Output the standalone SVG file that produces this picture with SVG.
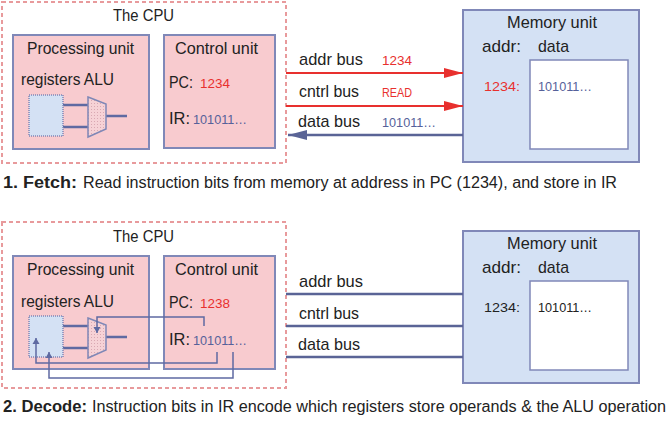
<svg xmlns="http://www.w3.org/2000/svg" width="671" height="421" viewBox="0 0 671 421">
<defs>
<style>
text{font-family:"Liberation Sans",Arial,sans-serif;fill:#222}
.t{font-size:17px}
.s{font-size:13px}
.red{fill:#e8302e}
.bl{fill:#56619a}
.cap{font-size:16px}
.b{font-weight:bold}
.cpu{fill:#fff;stroke:#e89a9c;stroke-width:2;stroke-dasharray:4 3}
.unit{fill:#f8cbcf;stroke:#8088b8;stroke-width:2}
.mem{fill:#d4e1f4;stroke:#8088b8;stroke-width:2}
.cell{fill:#fff;stroke:#8088b8;stroke-width:1.5}
.reg{fill:#d4e1f4;stroke:#7f87b6;stroke-width:1.5;stroke-dasharray:1 1}
.alu{fill:url(#dots);stroke:#7f87b6;stroke-width:1.5}
.lnk{stroke:#5f6aa2;stroke-width:2.5;fill:none}
.busr{stroke:#e8302e;stroke-width:2;fill:none}
.busb{stroke:#5a6496;stroke-width:2.5;fill:none}
.wire{stroke:#5f6aa2;stroke-width:1.5;fill:none}
</style>
<pattern id="dots" width="3" height="3" patternUnits="userSpaceOnUse">
<rect width="3" height="3" fill="#f6d2d6"/>
<rect x="1" y="1" width="1" height="1" fill="#d9a8b2"/>
</pattern>
<marker id="ar" markerWidth="20" markerHeight="10" refX="19" refY="5" orient="auto" markerUnits="userSpaceOnUse">
<path d="M0,0 L19,5 L0,10 z" fill="#e8302e"/>
</marker>
<marker id="ab" markerWidth="20" markerHeight="10" refX="19" refY="5" orient="auto" markerUnits="userSpaceOnUse">
<path d="M0,0 L19,5 L0,10 z" fill="#5a6496"/>
</marker>
<marker id="aw" markerWidth="6" markerHeight="8" refX="6" refY="4" orient="auto" markerUnits="userSpaceOnUse">
<path d="M0,0.5 L6,4 L0,7.5 z" fill="#5f6aa2"/>
</marker>
</defs>

<!-- ===== Panel 1: Fetch ===== -->
<g id="cpu1">
<rect class="cpu" x="2" y="2" width="284" height="161"/>
<text class="t" x="113" y="21" textLength="61" lengthAdjust="spacingAndGlyphs">The CPU</text>
</g>
<g id="proc1">
<rect class="unit" x="13" y="35" width="136" height="114"/>
<text class="t" x="27" y="54" textLength="107" lengthAdjust="spacingAndGlyphs">Processing unit</text>
<text class="t" x="21" y="85" textLength="93" lengthAdjust="spacingAndGlyphs">registers ALU</text>
<line class="lnk" x1="63" y1="105" x2="88" y2="105"/>
<line class="lnk" x1="63" y1="127" x2="88" y2="127"/>
<line class="lnk" x1="106" y1="116" x2="127" y2="116"/>
<rect class="reg" x="29" y="95" width="34" height="41"/>
<path class="alu" d="M88,97 L106,104 L106,129 L88,137 z"/>
</g>
<g id="ctrl1">
<rect class="unit" x="164" y="35" width="111" height="113"/>
<text class="t" x="175" y="54" textLength="83" lengthAdjust="spacingAndGlyphs">Control unit</text>
<text class="t" x="169" y="88" textLength="24" lengthAdjust="spacingAndGlyphs">PC:</text>
<text class="s red" x="200" y="88" textLength="30" lengthAdjust="spacingAndGlyphs">1234</text>
<text class="t" x="169" y="124" textLength="21" lengthAdjust="spacingAndGlyphs">IR:</text>
<text class="s bl" x="193" y="124" textLength="54" lengthAdjust="spacingAndGlyphs">101011…</text>
</g>
<g id="mem1">
<rect class="mem" x="463" y="10" width="176" height="152"/>
<text class="t" x="507" y="28" textLength="90" lengthAdjust="spacingAndGlyphs">Memory unit</text>
<text class="t" x="482" y="52" textLength="39" lengthAdjust="spacingAndGlyphs">addr:</text>
<text class="t" x="538" y="52" textLength="31" lengthAdjust="spacingAndGlyphs">data</text>
<rect class="cell" x="530" y="60" width="98" height="89"/>
<text class="s red" x="484" y="91" textLength="36" lengthAdjust="spacingAndGlyphs">1234:</text>
<text class="s bl" x="538" y="91" textLength="54" lengthAdjust="spacingAndGlyphs">101011…</text>
</g>
<g id="connectors1">
<line class="busr" x1="286" y1="73" x2="463" y2="73" marker-end="url(#ar)"/>
<line class="busr" x1="286" y1="106" x2="463" y2="106" marker-end="url(#ar)"/>
<line class="busb" x1="463" y1="135" x2="288" y2="135" marker-end="url(#ab)"/>
<text class="t" x="299" y="65" textLength="64" lengthAdjust="spacingAndGlyphs">addr bus</text>
<text class="s red" x="382" y="65" textLength="30" lengthAdjust="spacingAndGlyphs">1234</text>
<text class="t" x="299" y="97" textLength="60" lengthAdjust="spacingAndGlyphs">cntrl bus</text>
<text class="s red" x="382" y="97" textLength="30" lengthAdjust="spacingAndGlyphs">READ</text>
<text class="t" x="298" y="127" textLength="62" lengthAdjust="spacingAndGlyphs">data bus</text>
<text class="s bl" x="382" y="127" textLength="54" lengthAdjust="spacingAndGlyphs">101011…</text>
</g>
<g id="caption1">
<text class="cap b" x="3" y="188" textLength="74" lengthAdjust="spacingAndGlyphs">1. Fetch:</text>
<text class="cap" x="83" y="188" textLength="534" lengthAdjust="spacingAndGlyphs">Read instruction bits from memory at address in PC (1234), and store in IR</text>
</g>

<!-- ===== Panel 2: Decode ===== -->
<g id="cpu2">
<rect class="cpu" x="2" y="222" width="284" height="166"/>
<text class="t" x="113" y="242" textLength="61" lengthAdjust="spacingAndGlyphs">The CPU</text>
</g>
<g id="proc2">
<rect class="unit" x="13" y="256" width="136" height="113"/>
<text class="t" x="27" y="275" textLength="107" lengthAdjust="spacingAndGlyphs">Processing unit</text>
<text class="t" x="21" y="307" textLength="93" lengthAdjust="spacingAndGlyphs">registers ALU</text>
<line class="lnk" x1="63" y1="326" x2="88" y2="326"/>
<line class="lnk" x1="63" y1="348" x2="88" y2="348"/>
<line class="lnk" x1="106" y1="337" x2="127" y2="337"/>
<rect class="reg" x="29" y="316" width="34" height="41"/>
<path class="alu" d="M88,318 L106,325 L106,350 L88,358 z"/>
</g>
<g id="ctrl2">
<rect class="unit" x="164" y="256" width="111" height="113"/>
<text class="t" x="175" y="275" textLength="83" lengthAdjust="spacingAndGlyphs">Control unit</text>
<text class="t" x="169" y="308" textLength="24" lengthAdjust="spacingAndGlyphs">PC:</text>
<text class="s red" x="200" y="308" textLength="30" lengthAdjust="spacingAndGlyphs">1238</text>
<text class="t" x="169" y="345" textLength="21" lengthAdjust="spacingAndGlyphs">IR:</text>
<text class="s bl" x="193" y="345" textLength="54" lengthAdjust="spacingAndGlyphs">101011…</text>
</g>
<g id="mem2">
<rect class="mem" x="463" y="231" width="176" height="152"/>
<text class="t" x="507" y="249" textLength="90" lengthAdjust="spacingAndGlyphs">Memory unit</text>
<text class="t" x="482" y="273" textLength="39" lengthAdjust="spacingAndGlyphs">addr:</text>
<text class="t" x="538" y="273" textLength="31" lengthAdjust="spacingAndGlyphs">data</text>
<rect class="cell" x="530" y="281" width="98" height="89"/>
<text class="s" x="484" y="312" textLength="36" lengthAdjust="spacingAndGlyphs">1234:</text>
<text class="s" x="538" y="312" textLength="54" lengthAdjust="spacingAndGlyphs">101011…</text>
</g>
<g id="connectors2">
<line class="busb" x1="286" y1="294" x2="463" y2="294"/>
<line class="busb" x1="286" y1="326" x2="463" y2="326"/>
<line class="busb" x1="286" y1="357" x2="463" y2="357"/>
<text class="t" x="299" y="287" textLength="64" lengthAdjust="spacingAndGlyphs">addr bus</text>
<text class="t" x="299" y="319" textLength="60" lengthAdjust="spacingAndGlyphs">cntrl bus</text>
<text class="t" x="298" y="350" textLength="62" lengthAdjust="spacingAndGlyphs">data bus</text>
<path class="wire" d="M204,326 L204,317 L97,317 L97,333" marker-end="url(#aw)"/>
<path class="wire" d="M217,352 L217,363 L36,363 L36,338" marker-end="url(#aw)"/>
<path class="wire" d="M233,352 L233,378 L49,378 L49,352" marker-end="url(#aw)"/>
</g>
<g id="caption2">
<text class="cap b" x="3" y="412" textLength="84" lengthAdjust="spacingAndGlyphs">2. Decode:</text>
<text class="cap" x="92" y="412" textLength="574" lengthAdjust="spacingAndGlyphs">Instruction bits in IR encode which registers store operands &amp; the ALU operation</text>
</g>
</svg>
